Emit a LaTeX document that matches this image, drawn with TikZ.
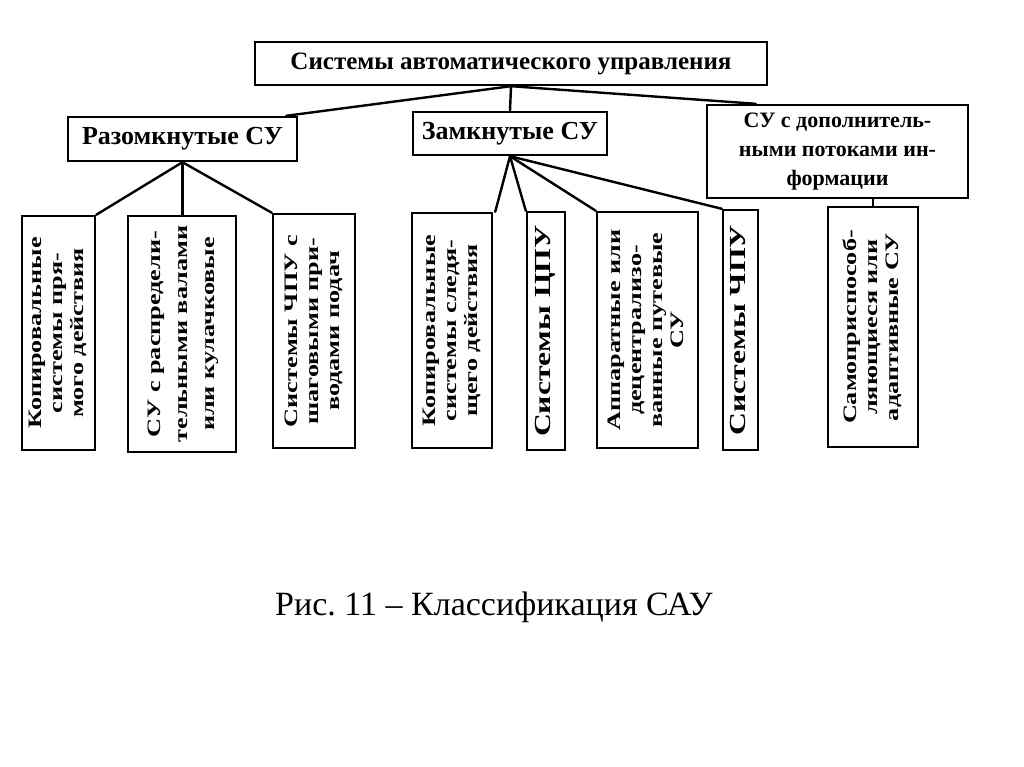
\documentclass[tikz,border=0pt]{standalone}
\usepackage{fontspec}
\setmainfont{Liberation Serif}
\newfontfamily\vfont{Liberation Serif}[FakeStretch=1.38]
\newfontfamily\hfont{Liberation Serif}
\usetikzlibrary{calc}
\tikzset{
  box/.style={draw, line width=2.4pt, inner sep=0pt, align=center},
  hbox/.style={box, font=\hfont\bfseries\fontsize{26}{29}\selectfont},
  vbox/.style={box},
  link/.style={line width=2.4pt, line cap=round, line join=round},
}
\newcommand{\vtext}[3]{\rotatebox{90}{\vfont\bfseries\fontsize{#1}{#2}\selectfont\begin{tabular}{@{}c@{}}#3\end{tabular}}}
\begin{document}
\begin{tikzpicture}[x=1pt,y=-1pt]
\useasboundingbox (0,0) rectangle (1024,767);
% level 0
\node[hbox, minimum width=512pt, minimum height=43pt, font=\hfont\bfseries\fontsize{25}{29}\selectfont] (top) at (511,63.5) {Системы автоматического управления};
% level 1
\node[hbox, minimum width=229pt, minimum height=44pt] (raz) at (182.5,139) {Разомкнутые СУ};
\node[hbox, minimum width=194pt, minimum height=43pt] (zam) at (510,133.5) {Замкнутые СУ};
\node[hbox, minimum width=261pt, minimum height=93pt, font=\hfont\bfseries\fontsize{22}{29}\selectfont] (dop) at (837.5,151.5) {СУ с дополнитель-\\ными потоками ин-\\формации};
% level 2
\node[vbox, minimum width=73pt, minimum height=234pt] (b1) at (58.5,333) {\vtext{19}{21}{Копировальные\\системы пря-\\мого действия}};
\node[vbox, minimum width=108pt, minimum height=236pt] (b2) at (182,334) {\vtext{19}{27}{СУ с распредели-\\тельными валами\\или кулачковые}};
\node[vbox, minimum width=82pt, minimum height=234pt] (b3) at (314,331) {\vtext{19}{21}{Системы ЧПУ с\\шаговыми при-\\водами подач}};
\node[vbox, minimum width=80pt, minimum height=235pt] (b4) at (452,330.5) {\vtext{19}{21}{Копировальные\\системы следя-\\щего действия}};
\node[vbox, minimum width=38pt, minimum height=238pt] (b5) at (546,331) {\vtext{23}{23}{Системы ЦПУ}};
\node[vbox, minimum width=101pt, minimum height=236pt] (b6) at (647.5,330) {\vtext{19}{21}{Аппаратные или\\децентрализо-\\ванные путевые\\СУ}};
\node[vbox, minimum width=35pt, minimum height=240pt] (b7) at (740.5,330) {\vtext{23}{23}{Системы ЧПУ}};
\node[vbox, minimum width=90pt, minimum height=240pt] (b8) at (873,327) {\vtext{19}{21}{Самоприспособ-\\ляющиеся или\\адаптивные СУ}};
% caption
\node[font=\fontsize{34}{40}\selectfont, inner sep=0pt] (cap) at (494,607) {Рис.\ 11 – Классификация САУ};
% connectors
\draw[link] (top.south) -- ($(raz.north east)+(-12,0)$);
\draw[link] (top.south) -- (zam.north);
\draw[link] (top.south) -- ($(dop.north west)+(50,0)$);
\draw[link] (raz.south) -- (b1.north east);
\draw[link] (raz.south) -- (raz.south |- b2.north);
\draw[link] (raz.south) -- (b3.north west);
\draw[link] (zam.south) -- ($(b4.north east)+(2,0)$);
\draw[link] (zam.south) -- (b5.north west);
\draw[link] (zam.south) -- (b6.north west);
\draw[link] (zam.south) -- (b7.north west);
\draw[link] (b8.north |- dop.south) -- (b8.north);
\end{tikzpicture}
\end{document}
